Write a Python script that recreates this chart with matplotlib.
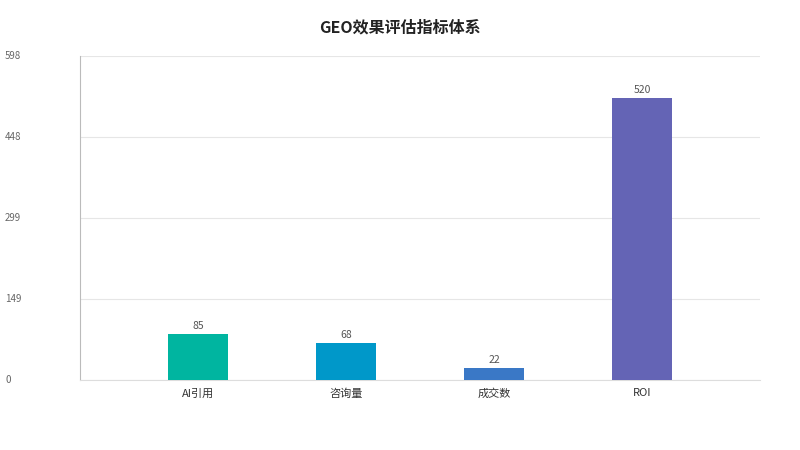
import matplotlib
matplotlib.use("Agg")
import matplotlib.pyplot as plt

plt.rcParams['font.family'] = ['Noto Sans CJK SC', 'DejaVu Sans']

categories = ["AI引用", "咨询量", "成交数", "ROI"]
values = [85, 68, 22, 520]
colors = ["#00b5a0", "#0098c9", "#3a78c6", "#6464b5"]
yticks = [0, 149, 299, 448, 598]

fig = plt.figure(figsize=(8, 4.5), dpi=100)
ax = fig.add_axes([80/800, 1-380/450, 680/800, 324/450])
x = list(range(len(categories)))
ax.bar(x, values, width=0.405, color=colors, zorder=3)
for xi, v in zip(x, values):
    ax.text(xi, v + 6, str(v), ha='center', va='bottom', fontsize=7.5, color='#555555')
ax.set_xlim(-0.797, 3.797)
ax.set_ylim(0, 598)
ax.set_yticks(yticks)
ax.set_yticklabels([])
ax.tick_params(axis='y', length=0)
ax.tick_params(axis='x', length=0, labelsize=8, colors='#333333', pad=6)
ax.set_xticks(x)
ax.set_xticklabels(categories)
ax.grid(axis='y', color='#e6e6e6', linewidth=0.8, zorder=0)
for s in ['top', 'right']:
    ax.spines[s].set_visible(False)
ax.spines['left'].set_color('#bbbbbb')
ax.spines['bottom'].set_color('#dddddd')
for t in yticks:
    y = (1 - 380/450) + t/598 * 324/450
    fig.text(5/800, y, str(t), ha='left', va='center', fontsize=7, color='#666666')
fig.text(0.5, 1-27/450, "GEO效果评估指标体系", ha='center', va='center',
         fontsize=11.5, fontweight='bold', color='#222222')
fig.savefig("out.png", dpi=100)
